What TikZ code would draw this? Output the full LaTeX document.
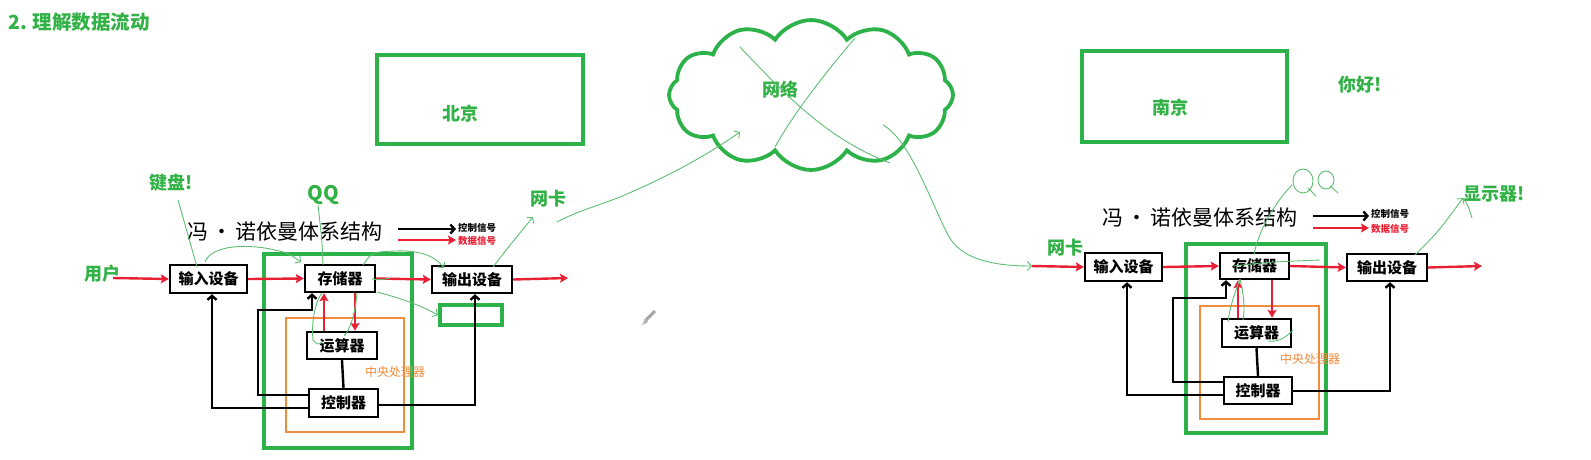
\documentclass[tikz,border=0pt]{standalone}
\usepackage{fontspec}
\setmainfont{Noto Sans CJK SC}
\usetikzlibrary{arrows.meta,shapes.symbols,calc}
\definecolor{gthick}{RGB}{44,178,72}
\definecolor{glabel}{RGB}{50,178,70}
\definecolor{gthin}{RGB}{95,190,115}
\definecolor{redarr}{RGB}{232,32,52}
\definecolor{orangec}{RGB}{240,140,60}
\tikzset{
  box/.style={draw=black, line width=2.4pt, fill=white, inner sep=0pt, font=\bfseries\fontsize{15}{15}\selectfont},
  lbl/.style={text=glabel, inner sep=0pt, font=\bfseries\fontsize{18}{18}\selectfont},
  vntitle/.style={inner sep=0pt, font=\fontsize{21}{21}\selectfont},
  legtxt/.style={inner sep=0pt, anchor=west, font=\bfseries\fontsize{9.5}{9.5}\selectfont},
  redline/.style={draw=redarr, line width=2.4pt, -{Stealth[length=8pt,width=9pt,inset=1.5pt]}},
  blackline/.style={draw=black, line width=2.4pt, -{Straight Barb[length=4pt,width=9pt]}},
  plainblack/.style={draw=black, line width=2.4pt},
  gbox/.style={draw=gthick, line width=3.6pt},
  obox/.style={draw=orangec, line width=1.5pt},
  gthinline/.style={draw=gthin, line width=0.9pt},
  gthinarrow/.style={draw=gthin, line width=0.9pt, -{Straight Barb[length=4pt,width=9pt]}},
}
\begin{document}
\begin{tikzpicture}[x=1pt,y=-1pt]
\useasboundingbox (0,0) rectangle (1591,459);
\fill[white] (0,0) rectangle (1591,459);

% heading
\node[lbl, anchor=west, font=\bfseries\fontsize{19.5}{19.5}\selectfont] (head) at (8,22) {2. 理解数据流动};

% city boxes
\draw[gbox] (377,55) rectangle (583,144);
\node[lbl] (bj) at (460,114) {北京};
\draw[gbox] (1082,51) rectangle (1287,142);
\node[lbl] (nj) at (1170,108) {南京};
\node[lbl] (hello) at (1360,85) {你好!};

% cloud
\node[cloud, cloud puffs=12, cloud puff arc=115, cloud ignores aspect, draw=gthick, line width=3.8pt,
      minimum width=284pt, minimum height=150pt, inner sep=0pt] (net) at (811,95) {};
\node[lbl] (netlbl) at (780,90) {网络};

% ================= LEFT DIAGRAM =================
\draw[gbox] (264,254) rectangle (412,448);
\draw[obox] (286,318) rectangle (404,432);
\node[inner sep=0pt, text=orangec, font=\fontsize{12}{12}\selectfont] (cpu1) at (395,372) {中央处理器};

\node[vntitle] (vn1) at (285,232) {冯\hspace{3pt}·\hspace{3pt}诺依曼体系结构};
\coordinate (lk1s) at (398,229); \coordinate (lk1e) at (456,229);
\coordinate (ld1s) at (398,240); \coordinate (ld1e) at (456,240);
\draw[blackline] (lk1s) -- (lk1e);
\draw[redline] (ld1s) -- (ld1e);
\node[legtxt] (lkt1) at (458,228) {控制信号};
\node[legtxt, text=redarr] (ldt1) at (458,241) {数据信号};

\node[box, minimum width=77pt, minimum height=28pt] (in1) at (208.5,279) {输入设备};
\node[box, minimum width=70pt, minimum height=27pt] (mem1) at (340,278.5) {存储器};
\node[box, minimum width=80pt, minimum height=27pt] (out1) at (472,279.5) {输出设备};
\node[box, minimum width=70pt, minimum height=27pt] (alu1) at (342,345.5) {运算器};
\node[box, minimum width=69pt, minimum height=28pt] (cu1) at (343.5,403) {控制器};
\draw[gbox, line width=3.2pt] (440,305) rectangle (502,325);

\node[lbl] (user) at (102,274) {用户};
\coordinate (usr) at (113,278);
\coordinate (out1e) at (568,278);
\draw[redline] (usr) -- (in1.west);
\draw[redline] (in1.east) -- (mem1.west);
\draw[redline] (mem1.east) -- (out1.west);
\draw[redline] (out1.east) -- (out1e);
\draw[redline] ([xshift=-18pt]alu1.north) -- ([xshift=-18pt]alu1.north |- mem1.south);
\draw[redline] ([xshift=15pt]mem1.south) -- ([xshift=15pt]mem1.south |- alu1.north);
\draw[plainblack] (alu1.south) -- (cu1.north);
\coordinate (c1a) at (258,310);
\draw[blackline] ([yshift=8pt]cu1.west) -| (c1a) -| ([xshift=-28pt]mem1.south);
\draw[blackline] ([yshift=-5pt]cu1.west) -| ([xshift=3.5pt]in1.south);
\draw[blackline] ([yshift=-2pt]cu1.east) -| ([xshift=3pt]out1.south);

\node[lbl] (kb) at (171,183) {键盘!};
\node[lbl, font=\bfseries\fontsize{20}{20}\selectfont] (qq1) at (323,195) {QQ};
\node[lbl] (nic1) at (548,199) {网卡};

% freehand green strokes (left)
\draw[gthinline] (178,200) .. controls (186,228) .. (197,267);
\draw[gthinarrow] (205,262) .. controls (212,244) and (250,244) .. (275,250) .. controls (288,253) .. (301,262);
\draw[gthinline] (318,205) .. controls (322,240) .. (323,265);
\draw[gthinarrow] (363,265) .. controls (372,252) .. (395,251) .. controls (420,250) and (435,256) .. (444,268);
\draw[gthinarrow] (493,267) .. controls (510,245) .. (533,217);
\draw[gthinarrow] (377,292) .. controls (400,298) and (420,305) .. (438,315);
\draw[gthinline] (313,340) .. controls (311,320) and (316,300) .. (322,293);
\draw[gthinline] (313,340) .. controls (318,345) .. (322,342);
\draw[gthinline] (344,336) .. controls (350,330) and (355,315) .. (357,293);
\draw[gthinline] (372,279) .. controls (380,280) .. (390,278);
\coordinate (w1) at (557,222);
\draw[gthinarrow] (w1) .. controls (575,212) and (600,205) .. (620,197) .. controls (660,180) and (700,160) .. (740,132);

% strokes over the cloud
\draw[gthinline] (740,47) .. controls (790,100) and (830,140) .. (890,163);
\draw[gthinline] (855,38) .. controls (815,85) and (790,120) .. (775,147);
\draw[gthinarrow] (883,125) .. controls (910,140) and (930,200) .. (948,235) .. controls (960,258) and (990,266) .. (1032,266);

% ================= RIGHT DIAGRAM =================
\draw[gbox] (1186,244) rectangle (1326,433);
\draw[obox] (1200,306) rectangle (1319,419);
\node[inner sep=0pt, text=orangec, font=\fontsize{12}{12}\selectfont] (cpu2) at (1310,359) {中央处理器};

\node[vntitle] (vn2) at (1200,218) {冯\hspace{3pt}·\hspace{3pt}诺依曼体系结构};
\coordinate (rk1s) at (1313,216); \coordinate (rk1e) at (1369,216);
\coordinate (rd1s) at (1313,228); \coordinate (rd1e) at (1369,228);
\draw[blackline] (rk1s) -- (rk1e);
\draw[redline] (rd1s) -- (rd1e);
\node[legtxt] (rkt1) at (1371,214) {控制信号};
\node[legtxt, text=redarr] (rdt1) at (1371,229) {数据信号};

\node[box, minimum width=77pt, minimum height=28pt] (in2) at (1123.5,267) {输入设备};
\node[box, minimum width=69pt, minimum height=26pt] (mem2) at (1254.5,266) {存储器};
\node[box, minimum width=80pt, minimum height=27pt] (out2) at (1387,267.5) {输出设备};
\node[box, minimum width=69pt, minimum height=28pt] (alu2) at (1256.5,333) {运算器};
\node[box, minimum width=68pt, minimum height=27pt] (cu2) at (1258,390.5) {控制器};

\coordinate (nin) at (1032,266);
\coordinate (out2e) at (1482,266);
\draw[redline] (nin) -- (in2.west);
\draw[redline] (in2.east) -- (mem2.west);
\draw[redline] (mem2.east) -- (out2.west);
\draw[redline] (out2.east) -- (out2e);
\draw[redline] ([xshift=-18.5pt]alu2.north) -- ([xshift=-18.5pt]alu2.north |- mem2.south);
\draw[redline] ([xshift=17.5pt]mem2.south) -- ([xshift=17.5pt]mem2.south |- alu2.north);
\draw[plainblack] (alu2.south) -- (cu2.north);
\coordinate (c2a) at (1173,298);
\draw[blackline] ([yshift=8.5pt]cu2.west) -| (c2a) -| ([xshift=-28.5pt]mem2.south);
\draw[blackline] ([yshift=-4.5pt]cu2.west) -| ([xshift=3.5pt]in2.south);
\draw[blackline] ([yshift=-0.5pt]cu2.east) -| ([xshift=3pt]out2.south);

\node[lbl] (nic2) at (1065,248) {网卡};
\node[lbl] (disp) at (1494,194) {显示器!};

% handwritten QQ (right)
\draw[gthinline] (1303,181) ellipse (10pt and 12pt);
\draw[gthinline] (1308,188) -- (1316,196);
\draw[gthinline] (1326,180) ellipse (8pt and 9pt);
\draw[gthinline] (1330,186) -- (1338,193);
\draw[gthinline] (1292,185) .. controls (1270,208) and (1258,235) .. (1254,254);
\draw[gthinarrow] (1415,255) .. controls (1438,232) .. (1463,198);
\draw[gthinline] (1463,198) .. controls (1468,205) .. (1472,218);
\draw[gthinline] (1233,266) .. controls (1270,262) .. (1320,260);
\draw[gthinline] (1228,322) .. controls (1230,305) and (1236,290) .. (1240,279);
\draw[gthinline] (1240,279) .. controls (1244,295) and (1245,310) .. (1243,320);
\draw[gthinline] (1268,341) .. controls (1280,343) and (1288,335) .. (1293,330);

% pencil cursor
\draw[gray!70, line width=3pt] (655,311) -- (645,321);
\fill[gray!60] (645.5,318.5) -- (642,325) -- (648,322) -- cycle;
\end{tikzpicture}
\end{document}
